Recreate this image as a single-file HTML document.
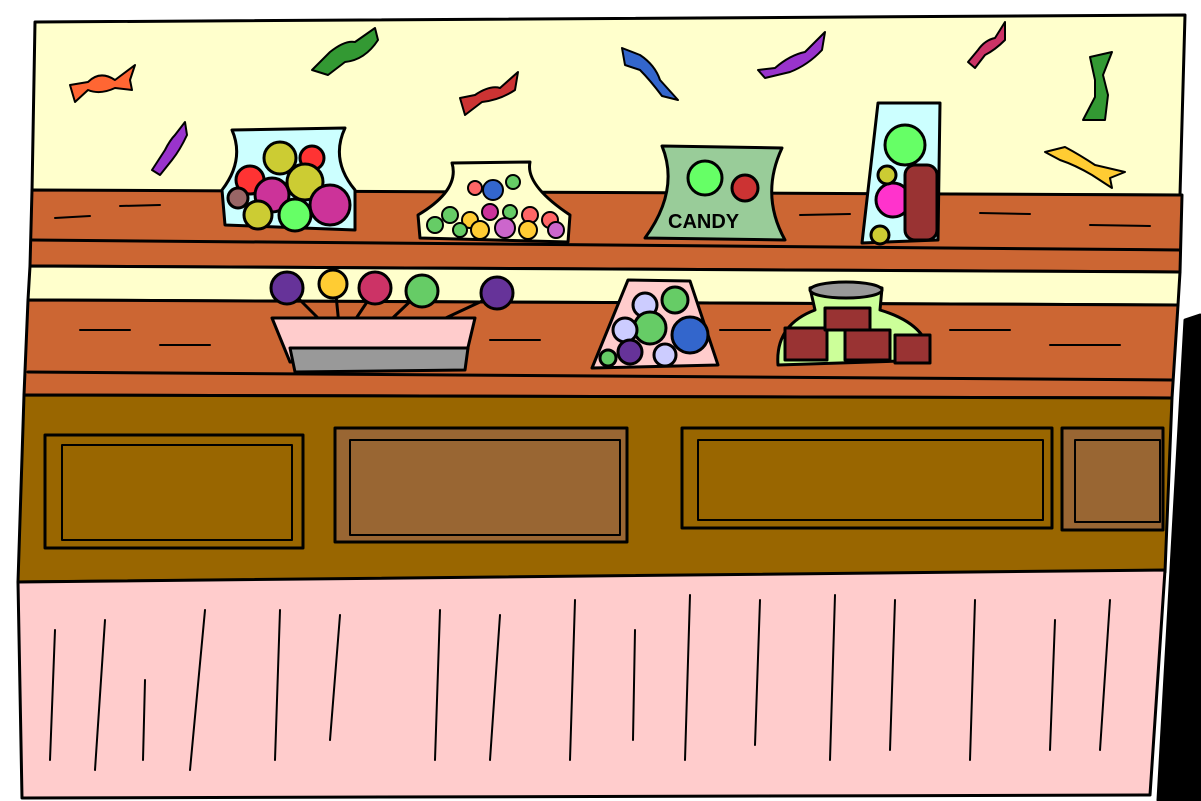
<!DOCTYPE html>
<html><head><meta charset="utf-8"><style>
html,body{margin:0;padding:0;background:#fff;}
svg{display:block;}
</style></head><body>
<svg width="1201" height="801" viewBox="0 0 1201 801" xmlns="http://www.w3.org/2000/svg" stroke="#000" stroke-width="3" stroke-linejoin="round" stroke-linecap="round">
<rect width="1201" height="801" fill="#fff" stroke="none"/>
<!-- wall -->
<polygon points="35,22 1185,15 1180,195 32,192" fill="#ffffcc"/>
<!-- top shelf -->
<polygon points="32,190 1182,195 1180,272 30,266" fill="#cc6633"/>
<polygon points="30,266 1180,272 1178,305 28,300" fill="#ffffcc"/>
<polygon points="28,300 1178,305 1172,398 24,395" fill="#cc6633"/>
<line x1="28" y1="372" x2="1172" y2="380"/>
<line x1="32" y1="240" x2="1180" y2="250"/>
<!-- cabinet -->
<polygon points="24,395 1172,398 1165,572 18,582" fill="#996600"/>
<rect x="45" y="435" width="258" height="113" fill="#996600"/>
<rect x="62" y="445" width="230" height="95" fill="none" stroke-width="2"/>
<rect x="335" y="428" width="292" height="114" fill="#996633"/>
<rect x="350" y="440" width="270" height="95" fill="none" stroke-width="2"/>
<rect x="682" y="428" width="370" height="100" fill="#996600"/>
<rect x="698" y="440" width="345" height="80" fill="none" stroke-width="2"/>
<rect x="1062" y="428" width="101" height="102" fill="#996633"/>
<rect x="1075" y="440" width="85" height="82" fill="none" stroke-width="2"/>
<!-- pink base -->
<polygon points="18,582 1165,570 1150,795 22,798" fill="#ffcccc"/>
<g stroke-width="2">
<line x1="55" y1="630" x2="50" y2="760"/><line x1="105" y1="620" x2="95" y2="770"/><line x1="145" y1="680" x2="143" y2="760"/>
<line x1="205" y1="610" x2="190" y2="770"/><line x1="280" y1="610" x2="275" y2="760"/><line x1="340" y1="615" x2="330" y2="740"/>
<line x1="440" y1="610" x2="435" y2="760"/><line x1="500" y1="615" x2="490" y2="760"/><line x1="575" y1="600" x2="570" y2="760"/>
<line x1="635" y1="630" x2="633" y2="740"/><line x1="690" y1="595" x2="685" y2="760"/><line x1="760" y1="600" x2="755" y2="745"/>
<line x1="835" y1="595" x2="830" y2="760"/><line x1="895" y1="600" x2="890" y2="750"/><line x1="975" y1="600" x2="970" y2="760"/>
<line x1="1055" y1="620" x2="1050" y2="750"/><line x1="1110" y1="600" x2="1100" y2="750"/>
</g>
<!-- right black edge -->
<polygon points="1185,320 1200,315 1200,800 1158,800" fill="#000"/>
<!-- shelf dashes -->
<g stroke-width="2">
<line x1="55" y1="218" x2="90" y2="216"/><line x1="120" y1="206" x2="160" y2="205"/><line x1="800" y1="215" x2="850" y2="214"/>
<line x1="980" y1="213" x2="1030" y2="214"/><line x1="1090" y1="225" x2="1150" y2="226"/><line x1="80" y1="330" x2="130" y2="330"/>
<line x1="160" y1="345" x2="210" y2="345"/><line x1="490" y1="340" x2="540" y2="340"/><line x1="950" y1="330" x2="1010" y2="330"/>
<line x1="1050" y1="345" x2="1120" y2="345"/><line x1="720" y1="330" x2="770" y2="330"/>
</g>
<!-- jar 1 -->
<g>
<path d="M232,130 L345,128 Q330,160 355,190 L355,230 L225,225 L222,190 Q245,160 232,130Z" fill="#ccffff"/>
<circle cx="280" cy="158" r="16" fill="#cccc33"/><circle cx="312" cy="158" r="12" fill="#ff3333"/>
<circle cx="250" cy="180" r="14" fill="#ff3333"/><circle cx="305" cy="182" r="18" fill="#cccc33"/>
<circle cx="272" cy="195" r="17" fill="#cc3399"/><circle cx="330" cy="205" r="20" fill="#cc3399"/>
<circle cx="295" cy="215" r="16" fill="#66ff66"/><circle cx="258" cy="215" r="14" fill="#cccc33"/><circle cx="238" cy="198" r="10" fill="#996666"/>
</g>
<!-- jar 2 -->
<g>
<path d="M452,163 L530,162 Q525,185 570,215 L568,242 L420,238 L418,215 Q460,190 452,163Z" fill="#ffffcc"/>
<g stroke-width="2">
<circle cx="493" cy="190" r="10" fill="#3366cc"/><circle cx="475" cy="188" r="7" fill="#ff6666"/><circle cx="513" cy="182" r="7" fill="#66cc66"/>
<circle cx="450" cy="215" r="8" fill="#66cc66"/><circle cx="470" cy="220" r="8" fill="#ffcc33"/><circle cx="490" cy="212" r="8" fill="#cc3399"/>
<circle cx="510" cy="212" r="7" fill="#66cc66"/><circle cx="530" cy="215" r="8" fill="#ff6666"/><circle cx="550" cy="220" r="8" fill="#ff6666"/>
<circle cx="435" cy="225" r="8" fill="#66cc66"/><circle cx="480" cy="230" r="9" fill="#ffcc33"/><circle cx="505" cy="228" r="10" fill="#cc66cc"/>
<circle cx="528" cy="230" r="9" fill="#ffcc33"/><circle cx="556" cy="230" r="8" fill="#cc66cc"/><circle cx="460" cy="230" r="7" fill="#66cc66"/>
</g>
</g>
<!-- candy bag -->
<g>
<path d="M662,146 L782,148 Q760,195 785,240 L645,238 Q680,190 662,146Z" fill="#99cc99"/>
<circle cx="705" cy="178" r="17" fill="#66ff66"/><circle cx="745" cy="188" r="13" fill="#cc3333"/>
<text x="668" y="228" font-family="Liberation Sans, sans-serif" font-size="20" font-weight="bold" stroke="none" fill="#000">CANDY</text>
</g>
<!-- tall jar -->
<g>
<path d="M878,103 L940,103 L938,240 L862,243Z" fill="#ccffff"/>
<circle cx="905" cy="145" r="20" fill="#66ff66"/><circle cx="893" cy="200" r="17" fill="#ff33cc"/>
<rect x="905" y="165" width="32" height="75" rx="10" fill="#993333"/><circle cx="880" cy="235" r="9" fill="#cccc33"/><circle cx="887" cy="175" r="9" fill="#cccc33"/>
</g>
<!-- lollipops -->
<g>
<line x1="290" y1="290" x2="335" y2="335"/><line x1="335" y1="285" x2="340" y2="335"/><line x1="375" y1="290" x2="345" y2="335"/>
<line x1="420" y1="292" x2="380" y2="330"/><line x1="495" y1="295" x2="420" y2="330"/>
<circle cx="287" cy="288" r="16" fill="#663399"/><circle cx="333" cy="284" r="14" fill="#ffcc33"/><circle cx="375" cy="288" r="16" fill="#cc3366"/>
<circle cx="422" cy="291" r="16" fill="#66cc66"/><circle cx="497" cy="293" r="16" fill="#663399"/>
<path d="M272,318 L475,318 L465,360 L290,362Z" fill="#ffcccc"/>
<path d="M290,348 L468,348 L465,370 L295,372Z" fill="#999999"/>
</g>
<!-- jar 5 -->
<g>
<path d="M628,280 L690,281 L718,365 L592,368Z" fill="#ffcccc"/>
<circle cx="645" cy="305" r="12" fill="#ccccff"/><circle cx="675" cy="300" r="13" fill="#66cc66"/><circle cx="650" cy="328" r="16" fill="#66cc66"/>
<circle cx="690" cy="335" r="18" fill="#3366cc"/><circle cx="625" cy="330" r="12" fill="#ccccff"/><circle cx="630" cy="352" r="12" fill="#663399"/>
<circle cx="665" cy="355" r="11" fill="#ccccff"/><circle cx="608" cy="358" r="8" fill="#66cc66"/>
</g>
<!-- jar 6 -->
<g>
<path d="M810,288 Q845,278 882,288 L880,310 Q930,325 930,360 L778,365 Q775,325 815,310Z" fill="#ccff99"/>
<ellipse cx="846" cy="290" rx="36" ry="8" fill="#999999"/>
<rect x="785" y="328" width="42" height="32" fill="#993333"/><rect x="845" y="330" width="45" height="30" fill="#993333"/>
<rect x="895" y="335" width="35" height="28" fill="#993333"/><rect x="825" y="308" width="45" height="22" fill="#993333"/>
</g>
<!-- wrapped candies -->
<g stroke-width="2">
<path d="M70,85 L88,82 Q100,70 115,80 L135,65 L130,80 L132,90 L115,88 Q100,95 88,90 L75,102Z" fill="#ff6633"/>
<path d="M312,70 L330,52 Q345,40 355,42 L375,28 L378,40 Q365,60 345,62 L328,75Z" fill="#339933"/>
<path d="M460,98 L475,95 Q490,85 500,88 L518,72 L515,90 Q500,100 482,102 L465,115Z" fill="#cc3333"/>
<path d="M622,48 L640,55 Q655,65 660,80 L678,100 L662,96 Q650,80 640,70 L625,65Z" fill="#3366cc"/>
<path d="M758,70 L775,68 Q790,55 805,52 L825,32 L822,50 Q808,65 790,72 L765,78Z" fill="#9933cc"/>
<path d="M968,62 L978,50 Q985,40 995,38 L1005,22 L1005,40 Q995,50 985,55 L975,68Z" fill="#cc3366"/>
<path d="M1090,57 L1112,52 L1103,75 L1108,95 L1105,120 L1083,120 L1095,97 L1095,80Z" fill="#339933"/>
<path d="M1045,152 L1065,147 Q1080,155 1095,165 L1125,172 L1110,178 L1112,188 L1092,175 Q1075,165 1060,160Z" fill="#ffcc33"/>
<path d="M152,170 L165,150 Q170,140 175,135 L185,122 L187,135 Q180,150 172,160 L160,175Z" fill="#9933cc"/>
</g>
</svg>
</body></html>
